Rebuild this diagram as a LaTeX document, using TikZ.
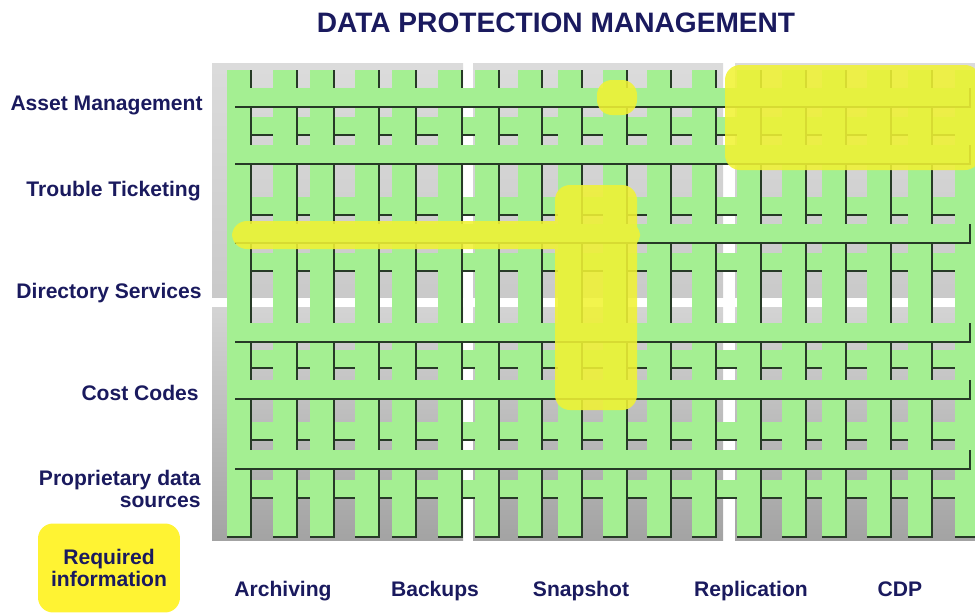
\documentclass[tikz,border=0pt]{standalone}
\usepackage{fontspec}
\setmainfont{Liberation Sans}
\definecolor{navy}{HTML}{1A1A5E}
\definecolor{bargreen}{HTML}{A4EF92}
\definecolor{barshadow}{HTML}{263A26}
\definecolor{hiyellow}{HTML}{F0F234}
\definecolor{keyyellow}{HTML}{FFF333}

\begin{document}
\begin{tikzpicture}[
            x = 0.02cm, y = -0.02cm,
            rowlabel/.style = {font = \fontsize{12}{12.5}\selectfont\bfseries, text = navy,
                               align = right, anchor = east, inner sep = 0pt},
            collabel/.style = {font = \fontsize{12}{12.5}\selectfont\bfseries, text = navy,
                               anchor = base, inner sep = 0pt},
            toppanel/.style = {top color = black!14, bottom color = black!21},
            lowpanel/.style = {top color = black!17, bottom color = black!36},
            bar/.style = {fill = bargreen},
            edge/.style = {draw = barshadow, line width = 1pt},
            highlight/.style = {fill = hiyellow, fill opacity = 0.88, rounded corners = 0.3cm}
            ]
            \useasboundingbox (0,0) rectangle (975,613);
            \foreach \xa/\xb in {212/463, 473/723, 735/990} {
                \shade[toppanel] (\xa,63) rectangle (\xb,297);
                \shade[lowpanel] (\xa,307) rectangle (\xb,540);
            }
            \foreach \yt in {117,197,253,350,422,480} {
                \fill[bar] (240,\yt) rectangle (955,\yt+18);
                \draw[edge] (240,\yt+18) -- (955,\yt+18);
            }
            \foreach \xl in {227,273,310,355,392,438,475,518,558,603,647,692,737,782,822,867,908,955} {
                \fill[bar] (\xl,70) rectangle (\xl+24,537);
                \draw[edge] (\xl+24,70) -- (\xl+24,537) -- (\xl,537);
            }
            \foreach \yt in {88,145,224,323,380,450} {
                \fill[bar] (235,\yt) rectangle (970,\yt+19);
                \draw[edge] (235,\yt+19) -- (970,\yt+19) -- (970,\yt);
            }
            \fill[highlight] (597,80) rectangle (637,115)
                             (725,65) rectangle (980,170)
                             (232,221) rectangle (640,249)
                             (555,185) rectangle (637,410);
            \node[font = \fontsize{16}{18}\selectfont\bfseries, text = navy] (title) at (556,23)
                {DATA PROTECTION MANAGEMENT};
            \node[rowlabel] (asset) at (203,105) {Asset Management};
            \node[rowlabel] (trouble) at (201,191) {Trouble Ticketing};
            \node[rowlabel] (directory) at (202,293) {Directory Services};
            \node[rowlabel] (cost) at (199,393) {Cost Codes};
            \node[rowlabel] (proprietary) at (201,489) {Proprietary data\\sources};
            \node[collabel] (archiving) at (283,596) {Archiving};
            \node[collabel] (backups) at (435,596) {Backups};
            \node[collabel] (snapshot) at (581,596) {Snapshot};
            \node[collabel] (replication) at (751,596) {Replication};
            \node[collabel] (cdp) at (900,596) {CDP};
            \node[font = \fontsize{12}{13}\selectfont\bfseries, text = navy, fill = keyyellow,
                  rounded corners = 0.3cm, align = center,
                  minimum width = 2.84cm, minimum height = 1.78cm] (required) at (109,568)
                {Required\\information};
          \end{tikzpicture}
\end{document}
